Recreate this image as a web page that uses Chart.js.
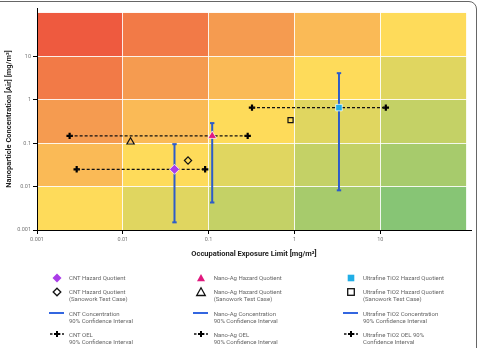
<!DOCTYPE html>
<html>
<head>
<meta charset="utf-8">
<script src="https://cdn.jsdelivr.net/npm/chart.js@4"></script>
<style>
  html, body { margin: 0; padding: 0; background: #fff; }
  #wrap { position: relative; width: 480px; height: 348px; overflow: hidden; font-family: Roboto, sans-serif; }
  #frame { position: absolute; left: -12px; top: 1px; width: 489px; height: 360px; box-sizing: border-box;
           border: 1.3px solid #666; border-radius: 8px; }
  canvas { position: absolute; left: 0; top: 0; }
  .item { position: absolute; }
  .item svg { position: absolute; overflow: visible; }
  .item .txt { position: absolute; white-space: nowrap; font-size: 6px; line-height: 7.6px; color: #666; }
</style>
</head>
<body>
<div id="wrap">
  <div id="frame"></div>
  <canvas id="myChart" width="480" height="348"></canvas>
  <div id="legend"></div>
</div>
<script>
// values (mg/m3)
const materials = ['CNT', 'Nano-Ag', 'Ultrafine TiO2'];
const oelValue = [0.04, 0.11, 3.3];          // x of hazard quotient marker
const concentration = [0.025, 0.147, 0.66];  // y of hazard quotient marker
const concLow = [0.0015, 0.0043, 0.0082];
const concHigh = [0.095, 0.29, 4.1];
const oelLow = [0.0029, 0.0024, 0.32];
const oelHigh = [0.091, 0.285, 11.6];
const sanoworkOel = [0.0575, 0.0123, 0.9];
const sanoworkConc = [0.04, 0.107, 0.34];

const decades = [0.001, 0.01, 0.1, 1, 10, 100];
const tickValues = [0.001, 0.01, 0.1, 1, 10];
const tickLabels = ['0.001', '0.01', '0.1', '1', '10'];

// colour per diagonal band, top-left (high risk) to bottom-right (low risk)
const riskColors = ['#EE5A3F', '#F27A47', '#F59B50', '#FABA56', '#FEDB5A', '#E0D660', '#C4D166', '#A7CB6C', '#87C575'];

const markerColors = ['#AA3CE8', '#E0197E', '#21AEE6'];
const markerStyles = ['rectRot', 'triangle', 'rect'];
const markerSizes = [5, 5, 4.6];
const hollowSizes = [3.6, 4.2, 3.6];
const ciColor = '#2D5CC9';

const riskGrid = {
  id: 'riskGrid',
  beforeDraw(chart) {
    const { ctx, scales: { x, y } } = chart;
    ctx.save();
    for (let c = 0; c < 5; c++) {
      for (let r = 0; r < 5; r++) {
        // r counts rows from the top
        const x0 = x.getPixelForValue(decades[c]);
        const x1 = x.getPixelForValue(decades[c + 1]);
        const y0 = y.getPixelForValue(decades[5 - r]);
        const y1 = y.getPixelForValue(decades[4 - r]);
        ctx.fillStyle = riskColors[r + c];
        ctx.fillRect(x0, y0, x1 - x0, y1 - y0);
      }
    }
    ctx.restore();
  }
};

const datasets = [];
materials.forEach((m, i) => {
  datasets.push({
    label: m + ' Hazard Quotient',
    data: [{ x: oelValue[i], y: concentration[i] }],
    pointStyle: markerStyles[i],
    pointRadius: markerSizes[i],
    backgroundColor: markerColors[i],
    borderColor: 'rgba(255,255,255,0.75)',
    borderWidth: 1,
    showLine: false,
    order: 0
  });
  datasets.push({
    label: m + ' Hazard Quotient (Sanowork Test Case)',
    data: [{ x: sanoworkOel[i], y: sanoworkConc[i] }],
    pointStyle: markerStyles[i],
    pointRadius: hollowSizes[i],
    backgroundColor: 'rgba(0,0,0,0)',
    borderColor: '#111',
    borderWidth: 1.2,
    showLine: false,
    order: 0
  });
  datasets.push({
    label: m + ' Concentration 90% Confidence Interval',
    data: [{ x: oelValue[i], y: concLow[i] }, { x: oelValue[i], y: concHigh[i] }],
    showLine: true,
    borderColor: ciColor,
    borderWidth: 2,
    pointStyle: 'line',
    pointRadius: 2.2,
    pointBorderWidth: 2,
    pointBorderColor: ciColor,
    order: 1
  });
  datasets.push({
    label: m + ' OEL 90% Confidence Interval',
    data: [{ x: oelLow[i], y: concentration[i] }, { x: oelHigh[i], y: concentration[i] }],
    showLine: true,
    borderColor: '#111',
    borderWidth: 1.2,
    borderDash: [3, 2],
    pointRadius: 0,
    order: 2
  });
  datasets.push({
    label: m + ' OEL ends',
    data: [{ x: oelLow[i], y: concentration[i] }, { x: oelHigh[i], y: concentration[i] }],
    showLine: false,
    pointStyle: 'cross',
    pointRadius: 3.2,
    pointBorderWidth: 2.2,
    borderColor: '#000',
    order: 2
  });
});

const tickFont = { family: 'Roboto', size: 5.5 };
const titleFont = { family: 'Roboto', size: 7.5, weight: 'bold' };

new Chart(document.getElementById('myChart').getContext('2d'), {
  type: 'scatter',
  data: { datasets },
  options: {
    responsive: false,
    animation: false,
    layout: { padding: { left: 0, top: 8, right: 9, bottom: 88 } },
    plugins: { legend: { display: false }, tooltip: { enabled: false } },
    scales: {
      x: {
        type: 'logarithmic',
        min: 0.001,
        max: 114,
        afterBuildTicks: (s) => { s.ticks = tickValues.map(v => ({ value: v })); },
        afterFit: (s) => { s.height = 30; },
        ticks: { font: tickFont, color: '#777', padding: 2, maxRotation: 0,
                 callback: (v) => tickLabels[tickValues.indexOf(v)] },
        grid: { color: 'rgba(255,255,255,0.85)', lineWidth: 1, tickColor: '#000', tickLength: 4 },
        border: { color: '#000', width: 1 },
        title: { display: true, text: 'Occupational Exposure Limit [mg/m³]', font: titleFont, color: '#222',
                 padding: { top: 0, bottom: 1 } }
      },
      y: {
        type: 'logarithmic',
        min: 0.001,
        max: 130,
        afterBuildTicks: (s) => { s.ticks = tickValues.map(v => ({ value: v })); },
        afterFit: (s) => { s.width = 37; },
        ticks: { font: tickFont, color: '#777', padding: 2,
                 callback: (v) => tickLabels[tickValues.indexOf(v)] },
        grid: { color: 'rgba(255,255,255,0.85)', lineWidth: 1, tickColor: '#000', tickLength: 4 },
        border: { color: '#000', width: 1 },
        title: { display: true, text: 'Nanoparticle Concentration [Air] [mg/m³]', font: titleFont, color: '#222',
                 padding: { top: 5, bottom: 0 } }
      }
    }
  },
  plugins: [riskGrid]
});

// html legend, 3 columns x 4 rows
const colIcon = [57, 200.7, 351];
const colText = [69, 213.7, 363];
const rowY = [277.7, 291.7, 313.3, 334.3];
const legendText = [
  ['CNT Hazard Quotient', 'Nano-Ag Hazard Quotient', 'Ultrafine TiO2 Hazard Quotient'],
  ['CNT Hazard Quotient<br>(Sanowork Test Case)', 'Nano-Ag Hazard Quotient<br>(Sanowork Test Case)', 'Ultrafine TiO2 Hazard Quotient<br>(Sanowork Test Case)'],
  ['CNT Concentration<br>90% Confidence Interval', 'Nano-Ag Concentration<br>90% Confidence Interval', 'Ultrafine TiO2 Concentration<br>90% Confidence Interval'],
  ['CNT OEL<br>90% Confidence Interval', 'Nano-Ag OEL<br>90% Confidence Interval', 'Ultrafine TiO2 OEL 90%<br>Confidence Interval']
];

function iconSvg(row, col) {
  const fill = markerColors[col];
  const shapes = {
    0: ['<polygon points="0,-4.5 4.5,0 0,4.5 -4.5,0" fill="' + fill + '"/>',
        '<polygon points="0,-4 4,3.2 -4,3.2" fill="' + fill + '"/>',
        '<rect x="-3.3" y="-3.3" width="6.6" height="6.6" fill="' + fill + '"/>'],
    1: ['<polygon points="0,-3.8 3.8,0 0,3.8 -3.8,0" fill="none" stroke="#111" stroke-width="1.3"/>',
        '<polygon points="0,-4.2 4.3,3.5 -4.3,3.5" fill="none" stroke="#111" stroke-width="1.3"/>',
        '<rect x="-3.3" y="-3.3" width="6.6" height="6.6" fill="none" stroke="#111" stroke-width="1.3"/>']
  };
  let body;
  if (row < 2) body = shapes[row][col];
  else if (row === 2) body = '<line x1="-8" y1="0" x2="7" y2="0" stroke="#3366E0" stroke-width="2"/>';
  else body = '<line x1="-7" y1="0" x2="7" y2="0" stroke="#111" stroke-width="1.3" stroke-dasharray="2.5,1.5"/>' +
              '<path d="M-3,0 H3 M0,-3 V3" stroke="#000" stroke-width="2"/>';
  return '<svg width="1" height="1" style="left:' + colIcon[col] + 'px;top:' + rowY[row] + 'px">' + body + '</svg>';
}

let html = '';
for (let r = 0; r < 4; r++) {
  for (let c = 0; c < 3; c++) {
    html += '<div class="item">' + iconSvg(r, c) +
      '<div class="txt" style="left:' + colText[c] + 'px;top:' + (rowY[r] - 3.8) + 'px">' + legendText[r][c] + '</div></div>';
  }
}
document.getElementById('legend').innerHTML = html;
</script>
</body>
</html>
